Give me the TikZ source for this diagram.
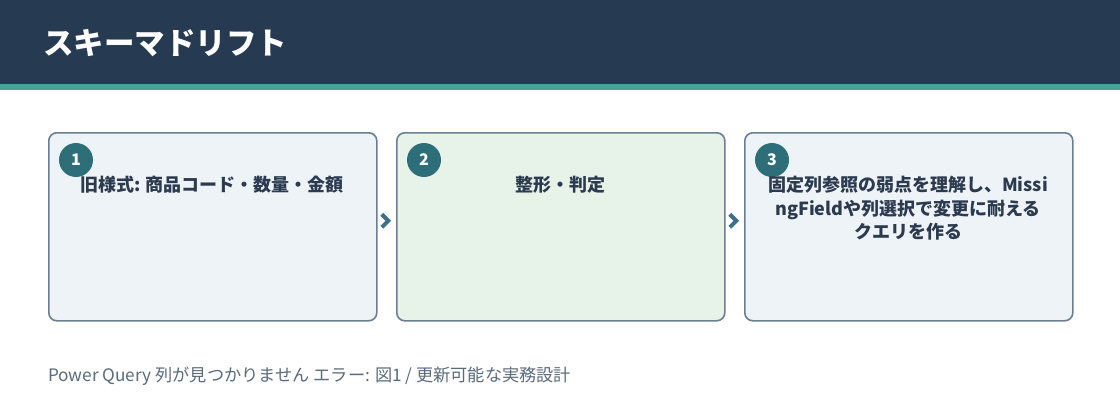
\documentclass[tikz,border=0pt]{standalone}
\usepackage{fontspec}
\setmainfont{Noto Sans CJK JP}
\usetikzlibrary{calc}
\definecolor{navy}{HTML}{263A52}
\definecolor{tealbar}{HTML}{47A396}
\definecolor{boxline}{HTML}{6B7F90}
\definecolor{boxblue}{HTML}{EEF3F8}
\definecolor{boxgreen}{HTML}{E7F2E9}
\definecolor{badge}{HTML}{2E6E78}
\definecolor{txt}{HTML}{2B3A4E}
\definecolor{chev}{HTML}{3D6E8A}
\definecolor{foot}{HTML}{5A6B7B}
\tikzset{
  x=1pt,y=-1pt,
  stepbox/.style={draw=boxline, line width=1.6pt, rounded corners=8pt, minimum width=328pt, minimum height=188pt, anchor=north west, inner sep=0pt},
  badgec/.style={circle, fill=badge, minimum size=34pt, inner sep=0pt, text=white, font=\fontsize{16pt}{18pt}\selectfont\bfseries},
  boxtext/.style={text=txt, align=center, anchor=center, font=\fontsize{18pt}{23.5pt}\selectfont\bfseries},
  chevron/.style={draw=chev, line width=4pt, line cap=butt, line join=miter},
}
\begin{document}
\begin{tikzpicture}
\useasboundingbox (0,0) rectangle (1120,420);
\fill[white] (0,0) rectangle (1120,420);
\fill[navy] (0,0) rectangle (1120,84);
\fill[tealbar] (0,84) rectangle (1120,90);
\node[anchor=west, text=white, font=\fontsize{30.5pt}{34pt}\selectfont\bfseries, inner sep=0pt] (title) at (43,43) {スキーマドリフト};

\node[stepbox, fill=boxblue] (b1) at (48,132) {};
\node[stepbox, fill=boxgreen] (b2) at (396,132) {};
\node[stepbox, fill=boxblue] (b3) at (744,132) {};

\node[badgec] (n1) at (76,160) {1};
\node[badgec] (n2) at (424,160) {2};
\node[badgec] (n3) at (772,160) {3};

\node[boxtext] (t1) at (212,185) {旧様式: 商品コード・数量・金額};
\node[boxtext] (t2) at (560,185) {整形・判定};
\node[boxtext] (t3) at (908,208.5) {固定列参照の弱点を理解し、Missi\\ngFieldや列選択で変更に耐える\\クエリを作る};

\coordinate (c1) at ($(b1.east)!0.5!(b2.west)+(-1,-6)$);
\coordinate (c2) at ($(b2.east)!0.5!(b3.west)+(-1,-6)$);
\draw[chevron] ($(c1)+(-4,-6.5)$) -- ($(c1)+(2.5,0)$) -- ($(c1)+(-4,6.5)$);
\draw[chevron] ($(c2)+(-4,-6.5)$) -- ($(c2)+(2.5,0)$) -- ($(c2)+(-4,6.5)$);

\node[anchor=west, text=foot, font=\fontsize{17.2pt}{19pt}\selectfont, inner sep=0pt] (footer) at (48,376) {Power Query 列が見つかりません エラー: 図1 / 更新可能な実務設計};
\end{tikzpicture}
\end{document}
